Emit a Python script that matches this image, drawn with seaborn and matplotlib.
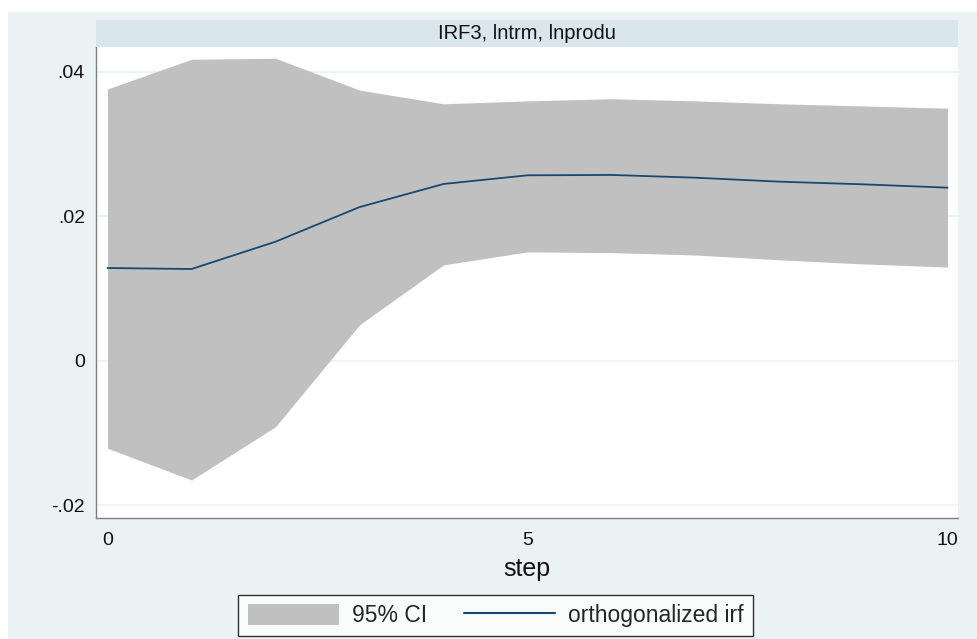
import numpy as np
import pandas as pd
import matplotlib
matplotlib.use("Agg")
import matplotlib.pyplot as plt
import seaborn as sns
from matplotlib.patches import Rectangle, Patch
from matplotlib.lines import Line2D

# values
steps = [0, 1, 2, 3, 4, 5, 6, 7, 8, 9, 10]
irf = [0.01287, 0.01273, 0.01651, 0.0213, 0.0245, 0.0257, 0.02575, 0.02537, 0.02482, 0.02445, 0.02399]
ci_low = [-0.01208, -0.01647, -0.0091, 0.0050, 0.0133, 0.0151, 0.0150, 0.01467, 0.0140, 0.01343, 0.0130]
ci_high = [0.03765, 0.04176, 0.0419, 0.0375, 0.0356, 0.0360, 0.0363, 0.0360, 0.0356, 0.0353, 0.03498]
ytick_vals = [-0.02, 0, 0.02, 0.04]
ytick_labels = ["-.02", "0", ".02", ".04"]
xtick_vals = [0, 5, 10]

title = "IRF3, lntrm, lnprodu"

df = pd.DataFrame({"step": steps, "irf": irf, "lo": ci_low, "hi": ci_high})

sns.set_style("white")
plt.rcParams["font.family"] = ["Liberation Sans", "DejaVu Sans"]

BG = "#eaf2f3"
HEAD = "#d9e6eb"
NAVY = "#1a476f"
CI = "#c0c0c0"
AXC = "#7f7f7f"

W, H = 977, 639
fig = plt.figure(figsize=(W / 100, H / 100), dpi=100)
fig.patch.set_facecolor("white")
fig.add_artist(Rectangle((8 / W, 0), 1 - 8 / W, 1 - 12 / H, transform=fig.transFigure,
                         facecolor=BG, edgecolor="none", zorder=0))

left, right, top, bottom = 96, 958, 46.7, 517.7
ax = fig.add_axes([left / W, 1 - bottom / H, (right - left) / W, (bottom - top) / H])
ax.set_facecolor("white")

# header strip
hax = fig.add_axes([left / W, 1 - top / H, (right - left) / W, (top - 20) / H])
hax.set_facecolor(HEAD)
hax.set_xticks([])
hax.set_yticks([])
for s in hax.spines.values():
    s.set_visible(False)
hax.text(0.5, 0.5, title, ha="center", va="center", fontsize=14.5, color="#111111")

ax.fill_between(df["step"], df["lo"], df["hi"], color=CI, linewidth=0, zorder=2)
sns.lineplot(data=df, x="step", y="irf", ax=ax, color=NAVY, linewidth=1.3, zorder=3)

ax.set_xlim(-0.137, 10.125)
ax.set_ylim(-0.02169, 0.0435)
ax.set_yticks(ytick_vals)
ax.set_yticklabels(ytick_labels)
ax.set_xticks(xtick_vals)
ax.set_xticklabels([str(v) for v in xtick_vals])
for v in ytick_vals:
    ax.axhline(v, color=BG, linewidth=1.2, zorder=1)

for side in ["top", "right"]:
    ax.spines[side].set_visible(False)
for side in ["left", "bottom"]:
    ax.spines[side].set_color(AXC)
    ax.spines[side].set_linewidth(1.0)
ax.tick_params(axis="both", direction="out", length=5, width=1, color=AXC,
               labelsize=14, labelcolor="#111111", pad=3)
ax.tick_params(axis="x", pad=5)
ax.set_xlabel("step", fontsize=18, color="#111111", labelpad=6)
ax.set_ylabel("")

handles = [Patch(facecolor=CI, edgecolor="none"),
           Line2D([0], [0], color=NAVY, linewidth=1.5)]
leg = fig.legend(handles, ["95% CI", "orthogonalized irf"], loc="center",
                 bbox_to_anchor=(495.5 / W, 1 - 615.5 / H), ncol=2, fontsize=16.5,
                 frameon=True, fancybox=False, handlelength=4.0, handleheight=1.05,
                 columnspacing=1.6, borderpad=0.4, handletextpad=0.55)
leg.get_frame().set_edgecolor("black")
leg.get_frame().set_linewidth(1.0)
leg.get_frame().set_facecolor("white")

fig.savefig("out.png", dpi=100, facecolor=fig.get_facecolor())
